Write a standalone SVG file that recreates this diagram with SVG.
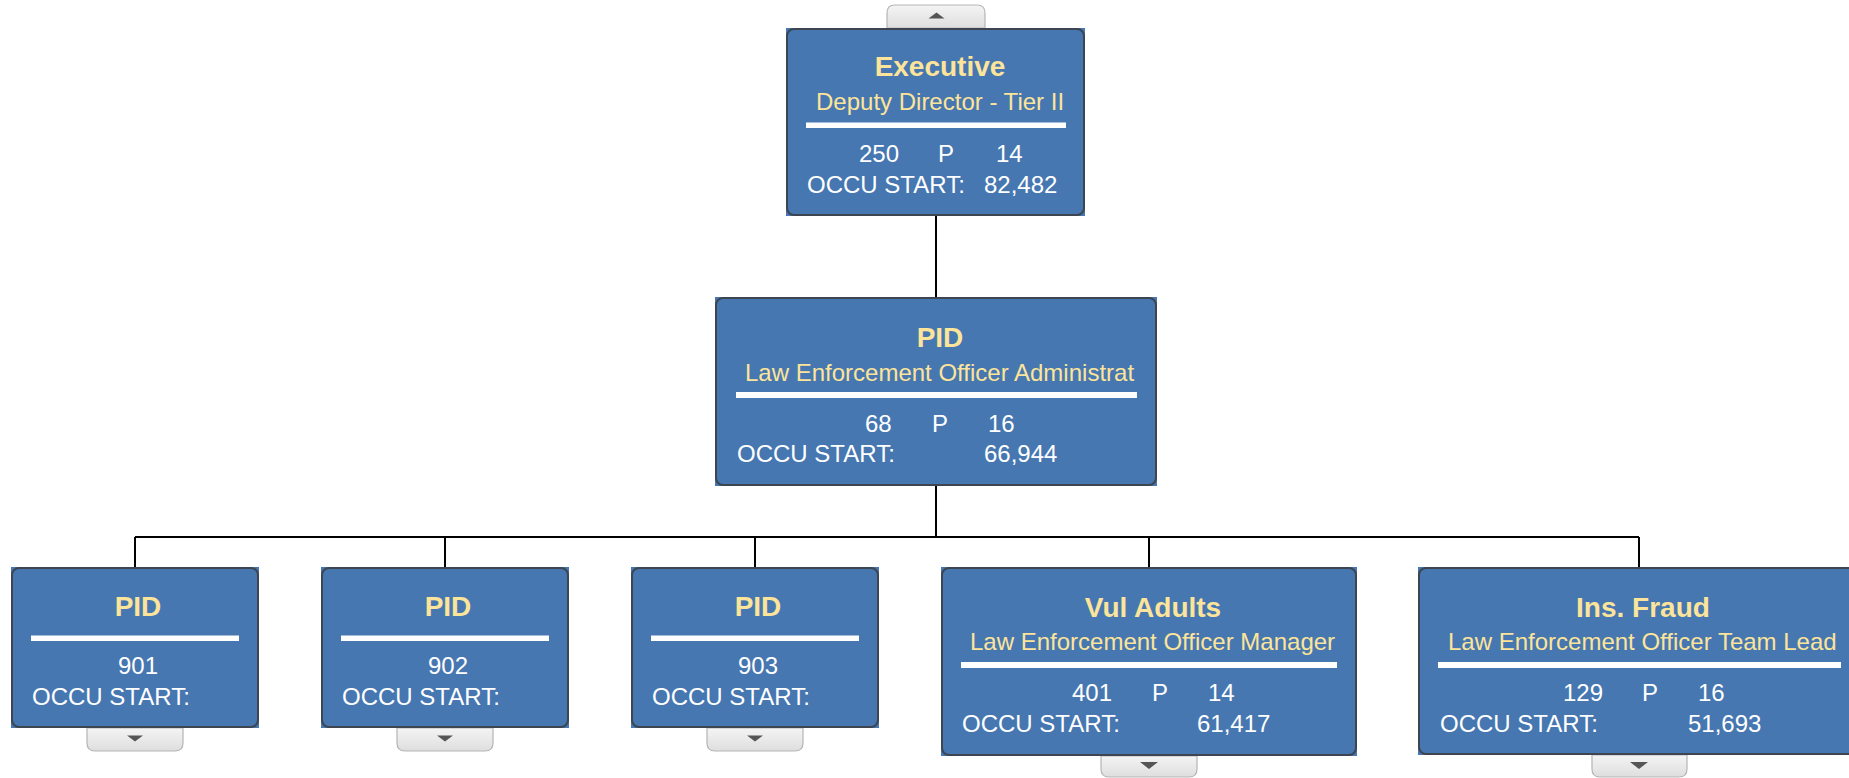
<svg xmlns="http://www.w3.org/2000/svg" width="1849" height="778" viewBox="0 0 1849 778">
<defs>
<linearGradient id="tabg" x1="0" y1="0" x2="0" y2="1">
<stop offset="0" stop-color="#f4f4f4"/>
<stop offset="1" stop-color="#dedede"/>
</linearGradient>
<style>
.bg{fill:#4677b1}
.bd{fill:none;stroke:#3d4550;stroke-width:2}
.t{font-family:"Liberation Sans",Arial,sans-serif;font-weight:bold;font-size:28px;fill:#fce49a;text-anchor:middle}
.s{font-family:"Liberation Sans",Arial,sans-serif;font-size:24px;fill:#fce49a}
.w{font-family:"Liberation Sans",Arial,sans-serif;font-size:24px;fill:#ffffff}
.m{text-anchor:middle}
.ln{fill:#ffffff}
.tab{fill:url(#tabg);stroke:#b5b5b5;stroke-width:1.2}
.tri{fill:#555555}
.c{fill:none;stroke:#000000;stroke-width:2}
</style>
</defs>
<rect width="1849" height="778" fill="#ffffff"/>
<g id="connectors">
<path class="c" d="M936 216V297M936 486V537M135 537H1639M135 537V567M445 537V567M755 537V567M1149 537V567M1639 537V567"/>
</g>
<g id="executive">
<path class="tab" d="M887 28V13Q887 5 895 5H977Q985 5 985 13V28Z"/>
<polygon class="tri" points="928.5,18.5 944.5,18.5 936.5,12.5"/>
<rect class="bg" x="786" y="28" width="299" height="188"/>
<rect class="bd" x="787" y="29" width="297" height="186" rx="7"/>
<text class="t" x="940" y="76">Executive</text>
<text class="s" x="816" y="110">Deputy Director - Tier II</text>
<rect class="ln" x="806" y="122.5" width="260" height="5.5"/>
<text class="w" x="859" y="162">250</text>
<text class="w" x="938" y="162">P</text>
<text class="w" x="996" y="162">14</text>
<text class="w" x="807" y="193">OCCU START:</text>
<text class="w" x="984" y="193">82,482</text>
</g>
<g id="pid-main">
<rect class="bg" x="715" y="297" width="442" height="189"/>
<rect class="bd" x="716" y="298" width="440" height="187" rx="7"/>
<text class="t" x="940" y="347">PID</text>
<text class="s" x="745" y="381">Law Enforcement Officer Administrat</text>
<rect class="ln" x="736" y="392" width="401" height="6"/>
<text class="w" x="865" y="432">68</text>
<text class="w" x="932" y="432">P</text>
<text class="w" x="988" y="432">16</text>
<text class="w" x="737" y="462">OCCU START:</text>
<text class="w" x="984" y="462">66,944</text>
</g>
<g id="pid-901">
<path class="tab" d="M87 728V743Q87 751 95 751H175Q183 751 183 743V728Z"/>
<polygon class="tri" points="127,735.5 143,735.5 135,741.5"/>
<rect class="bg" x="11" y="567" width="248" height="161"/>
<rect class="bd" x="12" y="568" width="246" height="159" rx="7"/>
<text class="t" x="138" y="616">PID</text>
<rect class="ln" x="31" y="635.5" width="208" height="5.5"/>
<text class="w m" x="138" y="674">901</text>
<text class="w" x="32" y="705">OCCU START:</text>
</g>
<g id="pid-902">
<path class="tab" d="M397 728V743Q397 751 405 751H485Q493 751 493 743V728Z"/>
<polygon class="tri" points="437,735.5 453,735.5 445,741.5"/>
<rect class="bg" x="321" y="567" width="248" height="161"/>
<rect class="bd" x="322" y="568" width="246" height="159" rx="7"/>
<text class="t" x="448" y="616">PID</text>
<rect class="ln" x="341" y="635.5" width="208" height="5.5"/>
<text class="w m" x="448" y="674">902</text>
<text class="w" x="342" y="705">OCCU START:</text>
</g>
<g id="pid-903">
<path class="tab" d="M707 728V743Q707 751 715 751H795Q803 751 803 743V728Z"/>
<polygon class="tri" points="747,735.5 763,735.5 755,741.5"/>
<rect class="bg" x="631" y="567" width="248" height="161"/>
<rect class="bd" x="632" y="568" width="246" height="159" rx="7"/>
<text class="t" x="758" y="616">PID</text>
<rect class="ln" x="651" y="635.5" width="208" height="5.5"/>
<text class="w m" x="758" y="674">903</text>
<text class="w" x="652" y="705">OCCU START:</text>
</g>
<g id="vul-adults">
<path class="tab" d="M1101 756V769Q1101 777 1109 777H1189Q1197 777 1197 769V756Z"/>
<polygon class="tri" points="1140,762 1158,762 1149,769"/>
<rect class="bg" x="941" y="567" width="416" height="189"/>
<rect class="bd" x="942" y="568" width="414" height="187" rx="7"/>
<text class="t" x="1153" y="617">Vul Adults</text>
<text class="s" x="970" y="650">Law Enforcement Officer Manager</text>
<rect class="ln" x="961" y="662" width="376" height="6"/>
<text class="w" x="1072" y="701">401</text>
<text class="w" x="1152" y="701">P</text>
<text class="w" x="1208" y="701">14</text>
<text class="w" x="962" y="732">OCCU START:</text>
<text class="w" x="1197" y="732">61,417</text>
</g>
<g id="ins-fraud">
<path class="tab" d="M1592 755V769Q1592 777 1600 777H1679Q1687 777 1687 769V755Z"/>
<polygon class="tri" points="1630,762 1648,762 1639,769"/>
<rect class="bg" x="1418" y="567" width="442" height="188"/>
<rect class="bd" x="1419" y="568" width="440" height="186" rx="7"/>
<text class="t" x="1643" y="617">Ins. Fraud</text>
<text class="s" x="1448" y="650">Law Enforcement Officer Team Lead</text>
<rect class="ln" x="1438" y="662" width="403" height="6"/>
<text class="w" x="1563" y="701">129</text>
<text class="w" x="1642" y="701">P</text>
<text class="w" x="1698" y="701">16</text>
<text class="w" x="1440" y="732">OCCU START:</text>
<text class="w" x="1688" y="732">51,693</text>
</g>
</svg>
